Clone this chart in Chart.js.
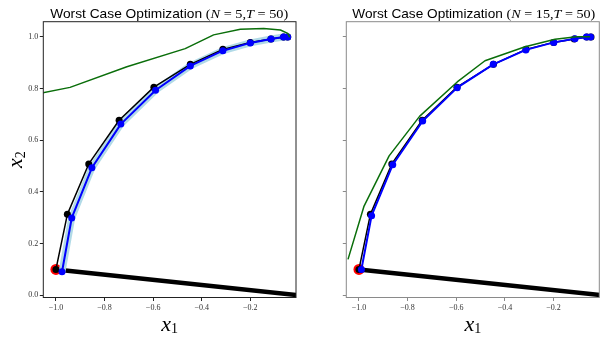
<!DOCTYPE html>
<html>
<head>
<meta charset="utf-8">
<script src="https://cdn.jsdelivr.net/npm/chart.js@4.4.0/dist/chart.umd.min.js"></script>
<style>
html, body { margin: 0; padding: 0; background: #fff; }
#wrap { position: relative; width: 606px; height: 339px; }
canvas { position: absolute; top: 0; }
</style>
</head>
<body>
<div id="wrap">
  <canvas id="c1" width="303" height="339" style="left:0"></canvas>
  <canvas id="c2" width="303" height="339" style="left:303px"></canvas>
</div>
<script>
// axis ticks
const xTicks = [-1.0, -0.8, -0.6, -0.4, -0.2];
const yTicks = [0.0, 0.2, 0.4, 0.6, 0.8, 1.0];

// start state and boundary segment
const startX = [-1.0];
const startY = [0.1];
const boundX = [-1.0, 0.0];
const boundY = [0.1, 0.0];

// nominal trajectory (black)
const nomX = [-1.0, -0.953, -0.865, -0.740, -0.597, -0.447, -0.313, -0.200, -0.115, -0.063, -0.046];
const nomY = [0.100, 0.313, 0.508, 0.677, 0.805, 0.893, 0.951, 0.978, 0.991, 0.999, 0.999];

// N = 5 : optimized trajectory (blue) and worst case (green)
const optX5 = [-0.975, -0.935, -0.852, -0.733, -0.590, -0.447, -0.313, -0.200, -0.115, -0.063, -0.046];
const optY5 = [0.091, 0.299, 0.493, 0.662, 0.793, 0.887, 0.946, 0.976, 0.991, 0.999, 0.999];
const wcX5 = [-1.06, -0.942, -0.708, -0.468, -0.351, -0.241, -0.145, -0.076, -0.046, -0.038];
const wcY5 = [0.782, 0.804, 0.884, 0.954, 1.007, 1.029, 1.032, 1.026, 1.013, 0.998];

// N = 15
const optX15 = [-0.99, -0.948, -0.861, -0.738, -0.596, -0.448, -0.314, -0.199, -0.112, -0.065, -0.048];
const optY15 = [0.100, 0.308, 0.505, 0.674, 0.803, 0.893, 0.949, 0.978, 0.992, 0.999, 0.999];
const wcX15 = [-1.045, -0.979, -0.876, -0.750, -0.596, -0.482, -0.317, -0.194, -0.106, -0.050];
const wcY15 = [0.139, 0.345, 0.539, 0.693, 0.825, 0.907, 0.961, 0.990, 1.000, 1.000];

function pts(xs, ys) {
    return xs.map((x, i) => ({ x: x, y: ys[i] }));
}

function fmt(v) {
    return v.toFixed(1).replace('-', '\u2212');
}

const SERIF = '"Liberation Serif", "DejaVu Serif", serif';
const SANS = '"Liberation Sans", "DejaVu Sans", sans-serif';

// draw pieces of text in a row, squeezed to a target width
function drawPieces(ctx, pieces, cx, y, target) {
    let w = 0;
    pieces.forEach(p => { ctx.font = p.f; w += ctx.measureText(p.t).width; });
    const s = target ? target / w : 1;
    ctx.save();
    ctx.translate(cx - (w * s) / 2, 0);
    ctx.scale(s, 1);
    let x = 0;
    pieces.forEach(p => {
        ctx.font = p.f;
        ctx.fillText(p.t, x, y + (p.dy || 0));
        x += ctx.measureText(p.t).width;
    });
    ctx.restore();
}

const decor = {
    id: 'decor',
    afterDraw(chart, args, o) {
        const ctx = chart.ctx;
        const a = chart.chartArea;
        ctx.save();
        ctx.strokeStyle = o.frame;
        ctx.lineWidth = 1;
        ctx.strokeRect(a.left, a.top, a.right - a.left, a.bottom - a.top);

        ctx.fillStyle = '#000';
        ctx.textBaseline = 'alphabetic';
        const it = 'italic 13.5px ' + SERIF;
        const rm = '13.5px ' + SERIF;
        drawPieces(ctx, [
            { t: 'Worst Case Optimization ', f: '13px ' + SANS },
            { t: '(', f: rm },
            { t: 'N', f: it },
            { t: ' = ' + o.n + ',', f: rm },
            { t: 'T', f: it },
            { t: ' = 50)', f: rm }
        ], o.titleX - o.left, 18.3, o.titleW);

        // x label
        drawPieces(ctx, [
            { t: 'x', f: 'italic 22px ' + SERIF },
            { t: '1', f: '14px ' + SERIF, dy: 2.5 }
        ], (a.left + a.right) / 2, 330.5);

        if (o.ylabel) {
            ctx.save();
            ctx.translate(22, (a.top + a.bottom) / 2);
            ctx.rotate(-Math.PI / 2);
            drawPieces(ctx, [
                { t: 'x', f: 'italic 22px ' + SERIF },
                { t: '2', f: '14px ' + SERIF, dy: 2.5 }
            ], 0, 0);
            ctx.restore();
        }
        ctx.restore();
    }
};

function makeChart(id, optX, optY, wcX, wcY, band, opt) {
    const datasets = [
        { data: pts(startX, startY), showLine: false, pointRadius: 5.5, pointBackgroundColor: 'red', pointBorderWidth: 0, order: 7 },
        { data: pts(boundX, boundY), showLine: true, borderColor: '#000', borderWidth: 4.5, pointRadius: 0, clip: 0, order: 6 },
        { data: pts(nomX, nomY), showLine: true, borderColor: '#000', borderWidth: 1.5, pointRadius: 3.5, pointBackgroundColor: '#000', pointBorderWidth: 0, order: 4 },
        { data: pts(optX, optY), showLine: true, borderColor: '#0000ff', borderWidth: 2, pointRadius: 3.5, pointBackgroundColor: '#0000ff', pointBorderWidth: 0, order: 3 },
        { data: pts(wcX, wcY), showLine: true, borderColor: '#0a6e0a', borderWidth: 1.5, pointRadius: 0, clip: 0, order: 2 }
    ];
    if (band) {
        datasets.push({ data: pts(optX, optY), showLine: true, borderColor: 'rgba(173,216,230,0.95)', borderWidth: 7, pointRadius: 0, order: 5 });
    }
    return new Chart(document.getElementById(id), {
        type: 'scatter',
        data: { datasets: datasets },
        options: {
            responsive: false,
            animation: false,
            devicePixelRatio: 1,
            events: [],
            elements: { line: { borderJoinStyle: 'round' } },
            layout: { padding: { left: 0, right: opt.right, top: 21.7, bottom: 0 } },
            plugins: {
                legend: { display: false },
                tooltip: { enabled: false },
                decor: opt
            },
            scales: {
                x: {
                    type: 'linear', min: -1.052, max: -0.012,
                    afterBuildTicks: s => { s.ticks = xTicks.map(v => ({ value: v })); },
                    afterFit: s => { s.height = 41.5; },
                    border: { display: false },
                    grid: { drawOnChartArea: false, tickLength: 3.5, tickColor: opt.frame, lineWidth: 1 },
                    ticks: { autoSkip: false, maxRotation: 0, padding: 2, color: '#333', font: { family: SERIF, size: 8 }, callback: v => fmt(v) }
                },
                y: {
                    type: 'linear', min: -0.0085, max: 1.058,
                    afterBuildTicks: s => { s.ticks = yTicks.map(v => ({ value: v })); },
                    afterFit: s => { s.width = 43.3; },
                    border: { display: false },
                    grid: { drawOnChartArea: false, tickLength: 3.5, tickColor: opt.frame, lineWidth: 1 },
                    ticks: { autoSkip: false, padding: 1.5, color: '#333', font: { family: SERIF, size: 8 }, callback: v => opt.ylabel ? fmt(v) : '' }
                }
            }
        },
        plugins: [decor]
    });
}

makeChart('c1', optX5, optY5, wcX5, wcY5, true,
    { frame: '#222', right: 7, n: '5', titleX: 169.2, titleW: 238, left: 0, ylabel: true });
makeChart('c2', optX15, optY15, wcX15, wcY15, false,
    { frame: '#8a8a8a', right: 6.7, n: '15', titleX: 473.8, titleW: 243, left: 303, ylabel: false });
</script>
</body>
</html>
